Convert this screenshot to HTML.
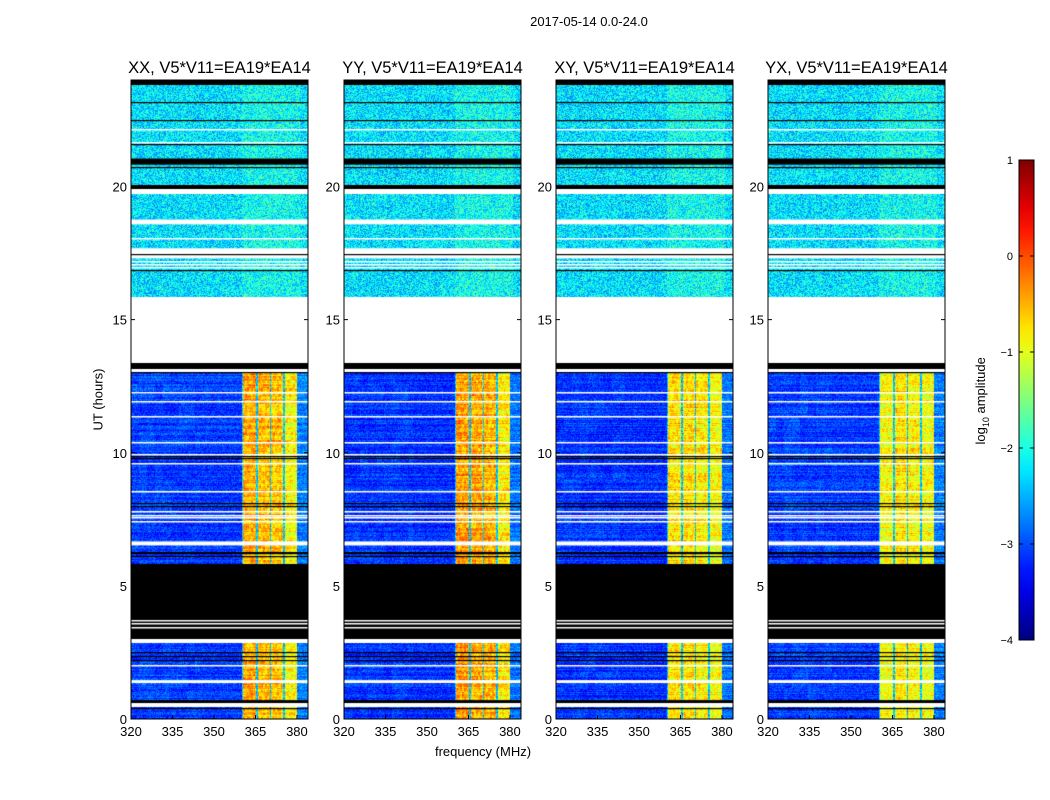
<!DOCTYPE html>
<html><head><meta charset="utf-8">
<style>
body{margin:0;background:#fff;font-family:"Liberation Sans",sans-serif;}
#wrap{position:relative;width:1050px;height:800px;overflow:hidden;background:#fff;}
.t{position:absolute;white-space:nowrap;color:#000;}
canvas{position:absolute;}
</style></head>
<body>
<div id="wrap">
<div class="t" style="left:489px;top:14px;width:200px;text-align:center;font-size:13px;">2017-05-14 0.0-24.0</div>
<div class="t" style="left:383px;top:744px;width:200px;text-align:center;font-size:13px;">frequency (MHz)</div>
<div class="t" style="left:48px;top:392px;width:100px;text-align:center;font-size:13px;transform:rotate(-90deg);">UT (hours)</div>
<div class="t" style="left:932px;top:392px;width:100px;text-align:center;font-size:13px;transform:rotate(-90deg);">log<sub style="font-size:9px">10</sub> amplitude</div>
<svg id="ov" width="1050" height="800" style="position:absolute;left:0;top:0"></svg>
</div>
<script>
// ---- data ----
const panelTitles=["XX, V5*V11=EA19*EA14","YY, V5*V11=EA19*EA14","XY, V5*V11=EA19*EA14","YX, V5*V11=EA19*EA14"];
const panelLeft=[131,344,556,768];
const xTicks=[320,335,350,365,380];
const yTicks=[0,5,10,15,20];
const cbTicks=[1,0,-1,-2,-3,-4];
const segStart=[0,2.85,3.0,5.84,13.0,13.15,13.37,15.84,19.7,19.9,20.07,23.8];
const segEnd  =[2.85,3.0,5.84,13.0,13.15,13.37,15.84,19.7,19.9,20.07,23.8,24];
const segKind =["active","white","black","active","white","black","white","quiet","white","black","quiet","black"];
const whiteBlocks=[[18.58,18.76],[17.3,17.68],[6.52,6.67],[1.35,1.46],[0.45,0.6]];
const blackBlocks=[[20.82,21.05],[0.6,0.71]];
const whiteLines=[22.17,21.68,18.05,17.2,17.1,16.97,12.28,11.95,11.39,10.4,9.96,9.63,8.58,7.83,7.68,7.57,7.45,3.71,3.6,3.45,2.92,2.02];
const blackLines=[23.18,22.51,21.61,20.75,17.45,16.85,13.03,9.89,9.81,8.13,8.01,6.29,6.22,6.14,2.51,2.36,2.21,0.41];
const bandStart=[360.4,365.8,370.8,375.8];
const bandEnd  =[365.1,370.1,375.1,380.0];
const bandLevel=[[-0.45,-0.55,-0.6,-0.85],[-0.4,-0.45,-0.5,-0.8],[-0.75,-0.7,-0.8,-0.9],[-0.9,-0.75,-0.85,-0.9]];
const activeBase=[-3.1,-3.15,-3.15,-3.1];
const quietBase=[-2.25,-2.25,-2.25,-2.25];
// ---- scales ----
const PW=177,PT=80,PH=639,F0=320,F1=384,H0=0,H1=24;
const xs=f=>(f-F0)/(F1-F0)*PW;
const ys=h=>PH-(h-H0)/(H1-H0)*PH;
const cbY=v=>160+(1-v)/5*480;
function jet(v){let t=(v+4)/5;t=Math.max(0,Math.min(1,t));
 const r=Math.max(0,Math.min(1,Math.min(4*t-1.5,-4*t+4.5)));
 const g=Math.max(0,Math.min(1,Math.min(4*t-0.5,-4*t+3.5)));
 const b=Math.max(0,Math.min(1,Math.min(4*t+0.5,-4*t+2.5)));
 return [r*255|0,g*255|0,b*255|0];}
function hash(a,b,c){let h=(a*374761393+b*668265263+c*2147483647)|0;h=(h^(h>>>13))*1274126177|0;return ((h^(h>>>16))>>>0)/4294967296;}
const wrap=document.getElementById('wrap');
const ov=document.getElementById('ov');
const NS="http://www.w3.org/2000/svg";
function sv(tag,at){const e=document.createElementNS(NS,tag);for(const k in at)e.setAttribute(k,at[k]);ov.appendChild(e);return e;}
panelLeft.forEach((L,p)=>{
 const cv=document.createElement('canvas');cv.width=PW;cv.height=PH;
 cv.style.left=L+'px';cv.style.top=PT+'px';
 
 
 wrap.insertBefore(cv,ov);
 const ctx=cv.getContext('2d');const img=ctx.createImageData(PW,PH);
 for(let y=0;y<PH;y++){
  const h=H0+(PH-y-0.5)/PH*(H1-H0);
  let kind="white";for(let i=0;i<segStart.length;i++)if(h>=segStart[i]&&h<segEnd[i]){kind=segKind[i];}
  const rowMod=(hash(y,p,7)-0.5)*0.35;
  for(let x=0;x<PW;x++){
   const f=F0+(x+0.5)/PW*(F1-F0);
   let c;
   if(kind==="white")c=[255,255,255];else if(kind==="black")c=[0,0,0];
   else{
    const n=hash(x,y,p+1)-0.5;
    let band=null;for(let j=0;j<bandStart.length;j++)if(f>=bandStart[j]&&f<bandEnd[j])band=j;
    let v;
    if(kind==="quiet"){v=quietBase[p]+n*1.1;if(f>=360&&f<381)v+=0.18;}
    else{
     v=activeBase[p]+n*0.6+rowMod;
     if(f<345)v+=0.2*(hash((x>>3),(y>>4),p)-0.3);
     if(band!==null){const blk=hash(x>>1,y>>2,p+11)-0.5;v=bandLevel[p][band]+n*0.5+blk*0.5+rowMod*1.2;}
     else if(f>=360&&f<380)v=-2.4+n*0.8;
     else if(f>=380&&f<384)v+=0.35;
    }
    c=jet(v);
   }
   const k=(y*PW+x)*4;img.data[k]=c[0];img.data[k+1]=c[1];img.data[k+2]=c[2];img.data[k+3]=255;
  }
 }
 ctx.putImageData(img,0,0);
 whiteBlocks.forEach(b=>{ctx.fillStyle='#fff';ctx.fillRect(0,ys(b[1]),PW,ys(b[0])-ys(b[1]));});
 blackBlocks.forEach(b=>{ctx.fillStyle='#000';ctx.fillRect(0,ys(b[1]),PW,ys(b[0])-ys(b[1]));});
 whiteLines.forEach(h=>{ctx.fillStyle='#fff';ctx.fillRect(0,Math.round(ys(h)),PW,1.5);});
 blackLines.forEach(h=>{ctx.fillStyle='#000';ctx.fillRect(0,Math.round(ys(h)),PW,1.2);});
 const fr=sv('rect',{x:L,y:PT,width:PW,height:PH,fill:'none',stroke:'#000','stroke-width':1});
 
 
 const tt=sv('text',{x:L+PW/2,y:73,'text-anchor':'middle','font-size':16.5,'font-family':'Liberation Sans, sans-serif'});
 tt.textContent=panelTitles[p];
 
 
 xTicks.forEach(t=>{const X=L+xs(t);
  sv('line',{x1:X,x2:X,y1:PT+PH,y2:PT+PH-4,stroke:'#000'});sv('line',{x1:X,x2:X,y1:PT,y2:PT+4,stroke:'#000'});
  const e=sv('text',{x:X,y:PT+PH+17,'text-anchor':'middle','font-size':13,'font-family':'Liberation Sans, sans-serif'});e.textContent=t;
  
  });
 yTicks.forEach(t=>{const Y=PT+ys(t);
  sv('line',{x1:L,x2:L+4,y1:Y,y2:Y,stroke:'#000'});sv('line',{x1:L+PW,x2:L+PW-4,y1:Y,y2:Y,stroke:'#000'});
  const e=sv('text',{x:L-4,y:Y+5,'text-anchor':'end','font-size':13,'font-family':'Liberation Sans, sans-serif'});e.textContent=t;
  
  });
});
const defs=sv('defs',{});const lg=document.createElementNS(NS,'linearGradient');
lg.setAttribute('id','jg');lg.setAttribute('x1','0');lg.setAttribute('y1','1');lg.setAttribute('x2','0');lg.setAttribute('y2','0');defs.appendChild(lg);
for(let i=0;i<=20;i++){const c=jet(-4+i/4);const s=document.createElementNS(NS,'stop');s.setAttribute('offset',i/20);s.setAttribute('stop-color','rgb('+c.join(',')+')');lg.appendChild(s);}
const cb=sv('rect',{x:1019,y:160,width:15,height:480,fill:'url(#jg)',stroke:'#000'});


cbTicks.forEach(t=>{const Y=cbY(t);
 sv('line',{x1:1019,x2:1023,y1:Y,y2:Y,stroke:'#000'});sv('line',{x1:1034,x2:1030,y1:Y,y2:Y,stroke:'#000'});
 const e=sv('text',{x:1013,y:Y+4,'text-anchor':'end','font-size':11,'font-family':'Liberation Sans, sans-serif'});e.textContent=t<0?'\u2212'+(-t):t;
 
 });
</script>
</body></html>
